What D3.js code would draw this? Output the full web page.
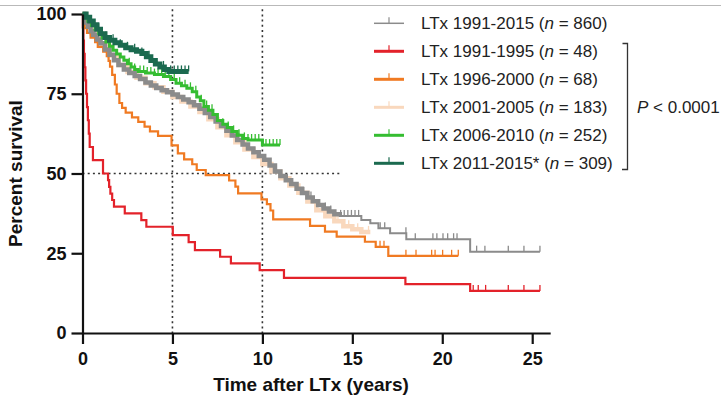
<!DOCTYPE html>
<html>
<head>
<meta charset="utf-8">
<script src="https://cdn.jsdelivr.net/npm/d3@7"></script>
<style>
  html, body { margin: 0; padding: 0; background: #fff; }
  svg { display: block; font-family: "Liberation Sans", Arial, Helvetica, sans-serif; }
</style>
</head>
<body>
<svg id="chart" width="721" height="398"></svg>
<script>
// Kaplan–Meier step points: [years after LTx, percent surviving]
const era1991_2015 = [
  [0,100],[0.1,98.5],[0.2,97.3],[0.3,96],[0.45,94.6],[0.6,93.5],[0.8,92],[1.0,90.8],
  [1.25,88.9],[1.5,87.2],[1.75,85.5],[2.0,84],[2.3,82.6],[2.6,81.5],[2.9,80.6],[3.2,79.6],
  [3.5,78.5],[3.8,77.6],[4.1,76.8],[4.4,76.1],[4.7,75.5],[5.0,74.8],[5.3,74],[5.6,73.2],
  [5.9,72.3],[6.2,71.4],[6.5,70.3],[6.8,69],[7.1,67.7],[7.4,66.3],[7.7,64.9],[8.0,63.4],
  [8.3,61.9],[8.6,60.5],[8.9,59.1],[9.2,57.8],[9.5,56.7],[9.8,55.5],[10.1,54.3],[10.4,52.5],
  [10.7,50.6],[11.0,49.2],[11.3,47.9],[11.6,46.7],[11.9,45.2],[12.2,43.9],[12.5,42.5],
  [12.8,41.3],[13.1,40.1],[13.4,39],[13.7,38.1],[14.0,37.2],[14.3,36.7],[15.5,35.4],
  [16.0,34.4],[16.45,32.8],[17.1,31.3],[18.0,29.4],[21.55,25.5],[25.43,25.5]
];
const era1991_1995 = [
  [0,100],[0.02,95.8],[0.05,91.7],[0.08,87.5],[0.12,83.3],[0.16,79.2],[0.2,75],[0.25,70.8],
  [0.3,66.7],[0.35,62.5],[0.4,58.3],[0.58,54.2],[1.14,50],[1.42,47.9],[1.48,45.8],[1.55,43.7],
  [1.65,41.7],[1.75,39.6],[2.35,37.5],[3.27,35.4],[3.55,33.3],[5.02,30.7],[5.9,28.5],
  [6.25,26],[7.65,23.9],[8.25,21.8],[9.85,19.7],[11.2,17.3],[17.95,15.3],[21.55,13.2],[25.43,13.2]
];
const era1996_2000 = [
  [0,100],[0.05,97.1],[0.12,95.6],[0.25,94.1],[0.45,92.6],[0.7,91.2],[0.85,89.7],[1.15,88.2],
  [1.35,86.8],[1.45,85.3],[1.53,83.5],[1.65,80.9],[1.8,77.9],[1.9,75],[2.05,72.1],[2.2,70.6],
  [2.4,69.1],[2.75,67.6],[3.1,66.2],[3.45,64.7],[3.75,63.2],[4.2,61.8],[4.95,58.8],[5.3,56.3],
  [5.65,54.4],[6.1,52.9],[6.35,51.1],[6.85,49.5],[8.15,47.8],[8.5,45.9],[8.65,43.8],
  [9.95,41.9],[10.25,40.4],[10.45,38.4],[10.6,35.6],[12.65,33.6],[13.48,31.8],[14.13,30.2],
  [15.7,28.6],[16.3,27],[17.0,24.2],[20.89,24.2]
];
const era2001_2005 = [
  [0,100],[0.2,97],[0.5,94],[1.0,90],[1.5,87],[2.0,84],[2.5,81.8],[3.0,80],[3.5,78.3],
  [4.0,77],[4.5,75.6],[5.0,74],[5.5,72.6],[6.0,71],[6.5,69.3],[7.0,67],[7.5,64.5],[8.0,62],
  [8.5,59.8],[9.0,57.5],[9.5,55.2],[10.0,53],[10.5,50.6],[11.0,48.5],[11.5,46.2],[12.0,44],
  [12.5,41.2],[13.0,38.5],[13.5,36.6],[14.0,35],[14.5,33.5],[15.0,32.5],[15.5,31.7],[16.0,31.7]
];
const era2006_2010 = [
  [0,100],[0.15,98.8],[0.3,97.7],[0.5,96.4],[0.7,95.2],[0.9,94],[1.1,92.5],[1.3,91.2],
  [1.5,89.9],[1.7,88.6],[1.9,87.5],[2.1,86.5],[2.3,85.5],[2.5,84.4],[2.7,83.4],[2.9,82.6],
  [3.1,82],[3.5,81.5],[4.0,81],[4.5,80.4],[4.9,79.5],[5.2,78.3],[5.5,77.5],[5.8,76.7],
  [6.1,75.6],[6.35,74],[6.55,72.8],[6.75,71],[7.0,69.8],[7.25,68.5],[7.5,66.6],[7.8,65.4],
  [8.05,64.4],[8.3,63.2],[8.6,62],[8.9,61],[9.2,60.5],[10.0,58.9],[10.98,58.9]
];
const era2011_2015 = [
  [0,100],[0.2,99],[0.4,97.8],[0.6,96.6],[0.8,95.2],[1.0,93.8],[1.25,92.6],[1.5,91.8],
  [1.8,91],[2.1,90.2],[2.4,89.4],[2.7,88.8],[3.0,88.3],[3.3,87.6],[3.55,86.6],[3.8,85.4],
  [4.05,84.3],[4.3,83.4],[4.55,82.6],[4.8,82],[5.9,82]
];

// Censoring times (years) per era
const censor1991_2015 = [11.9,12.3,12.7,13.1,13.5,13.8,14.35,14.55,14.75,14.95,15.15,15.35,
  16.55,16.8,17.98,18.5,19.48,19.7,20.04,20.3,20.63,20.82,21.91,22.37,23.67,24.54,25.43];
const censor1991_1995 = [21.72,22.0,22.41,23.67,24.54,25.43];
const censor1996_2000 = [16.54,16.76,17.98,18.54,19.41,19.6,20.02,20.52,20.89];
const censor2001_2005 = [12.2,13.3,14.2,14.8,15.3,15.9];
const censor2006_2010 = [2.6,2.9,3.2,3.4,3.6,3.8,4.0,4.2,4.4,4.6,4.8,5.1,5.4,5.7,6.0,6.3,
  6.6,6.9,7.2,7.5,7.8,8.1,8.4,8.7,9.0,9.2,9.4,9.6,9.8,10.05,10.2,10.4,10.6,10.8,10.98];
const censor2011_2015 = [0.9,1.3,1.7,2.1,2.5,2.9,3.3,3.7,4.1,4.5,4.9,5.1,5.3,5.5,5.7,5.9];

const eraNames = ["LTx 1991-2015", "LTx 1991-1995", "LTx 1996-2000",
                  "LTx 2001-2005", "LTx 2006-2010", "LTx 2011-2015*"];
const eraCounts = [860, 48, 68, 183, 252, 309];
const xTicks = [0, 5, 10, 15, 20, 25];
const yTicks = [0, 25, 50, 75, 100];
const guideYears = [5, 10];
const guideSurvival = 50;
const guideSurvivalEnd = 14.4;
const pValueText = "< 0.0001";

// Visual styling for each era (same order as eraNames)
const eraStyles = [
  { color: "#8b8b8b", width: 2,   thickUntil: 14.3, thickWidth: 4.5, legendWidth: 1.5 },
  { color: "#e3222a", width: 2.2, thickUntil: 0,    thickWidth: 0,   legendWidth: 3 },
  { color: "#f07a22", width: 2.2, thickUntil: 0,    thickWidth: 0,   legendWidth: 3 },
  { color: "#f9d8bd", width: 4.5, thickUntil: 0,    thickWidth: 0,   legendWidth: 3 },
  { color: "#35bd31", width: 3,   thickUntil: 0,    thickWidth: 0,   legendWidth: 3 },
  { color: "#1b6a4f", width: 5,   thickUntil: 0,    thickWidth: 0,   legendWidth: 3 }
];
const stepSets = [era1991_2015, era1991_1995, era1996_2000, era2001_2005, era2006_2010, era2011_2015];
const censorSets = [censor1991_2015, censor1991_1995, censor1996_2000, censor2001_2005, censor2006_2010, censor2011_2015];
const drawOrder = [3, 1, 2, 0, 4, 5];

const svg = d3.select("#chart");
svg.append("rect").attr("width", 721).attr("height", 398).attr("fill", "#fff");

// thin rule along the top edge of the page
svg.append("line").attr("x1", 0).attr("x2", 721).attr("y1", 5.5).attr("y2", 5.5)
  .attr("stroke", "#b9b9b9").attr("stroke-width", 1);

const x = d3.scaleLinear().domain([0, 26]).range([82.5, 550.2]);
const y = d3.scaleLinear().domain([0, 100]).range([333, 14]);

// dotted guides at 5 and 10 years and at median survival
const guides = svg.append("g").attr("stroke", "#333").attr("stroke-width", 1.6)
  .attr("stroke-dasharray", "2,3.2");
guideYears.forEach(t => {
  guides.append("line").attr("x1", x(t)).attr("x2", x(t))
    .attr("y1", y(101.5)).attr("y2", y(0));
});
guides.append("line").attr("x1", x(0)).attr("x2", x(guideSurvivalEnd))
  .attr("y1", y(guideSurvival)).attr("y2", y(guideSurvival));

// survival curves
const line = d3.line().x(d => x(d[0])).y(d => y(d[1])).curve(d3.curveStepAfter);
const bis = d3.bisector(d => d[0]).right;
const curves = svg.append("g").attr("fill", "none");
drawOrder.forEach(i => {
  const st = eraStyles[i], data = stepSets[i];
  const g = curves.append("g");
  g.append("path").attr("d", line(data)).attr("stroke", st.color)
    .attr("stroke-width", st.width).attr("stroke-linejoin", "miter");
  if (st.thickUntil > 0) {
    g.append("path").attr("d", line(data.filter(d => d[0] <= st.thickUntil)))
      .attr("stroke", st.color).attr("stroke-width", st.thickWidth);
  }
  g.selectAll("line.censor").data(censorSets[i]).join("line")
    .attr("class", "censor")
    .attr("x1", t => x(t)).attr("x2", t => x(t))
    .attr("y1", t => y(data[Math.max(0, bis(data, t) - 1)][1]))
    .attr("y2", t => y(data[Math.max(0, bis(data, t) - 1)][1]) - 6)
    .attr("stroke", st.color).attr("stroke-width", 1.3);
});

// axes
const xAxis = svg.append("g").attr("transform", `translate(0,${y(0)})`)
  .call(d3.axisBottom(x).tickValues(xTicks).tickSize(11).tickSizeOuter(0).tickPadding(8));
const yAxis = svg.append("g").attr("transform", `translate(${x(0)},0)`)
  .call(d3.axisLeft(y).tickValues(yTicks).tickSize(11).tickSizeOuter(0).tickPadding(5));
[xAxis, yAxis].forEach(a => {
  a.select(".domain").attr("stroke", "#111").attr("stroke-width", 2.2);
  a.selectAll(".tick line").attr("stroke", "#111").attr("stroke-width", 2.2);
  a.selectAll(".tick text").attr("fill", "#111").attr("font-size", 18)
    .attr("font-weight", "bold").attr("font-family", "Liberation Sans, Arial, sans-serif");
});

// axis titles
svg.append("text").attr("x", 311).attr("y", 391).attr("text-anchor", "middle")
  .attr("font-size", 19).attr("font-weight", "bold").attr("fill", "#111")
  .text("Time after LTx (years)");
svg.append("text").attr("transform", `translate(22,${y(50)}) rotate(-90)`)
  .attr("text-anchor", "middle").attr("font-size", 19).attr("font-weight", "bold")
  .attr("fill", "#111").text("Percent survival");

// legend
const legend = svg.append("g");
eraNames.forEach((name, i) => {
  const cy = 23.3 + i * 28;
  const st = eraStyles[i];
  legend.append("line").attr("x1", 374).attr("x2", 404).attr("y1", cy).attr("y2", cy)
    .attr("stroke", st.color).attr("stroke-width", st.legendWidth);
  legend.append("line").attr("x1", 389).attr("x2", 389).attr("y1", cy).attr("y2", cy - 6)
    .attr("stroke", st.color).attr("stroke-width", 1.2);
  const t = legend.append("text").attr("x", 421).attr("y", cy + 6)
    .attr("font-size", 17).attr("fill", "#222");
  t.append("tspan").text(name + " (");
  t.append("tspan").attr("font-style", "italic").text("n");
  t.append("tspan").text(" = " + eraCounts[i] + ")");
});
legend.append("path").attr("d", "M622.5,43.5H627.5V169.5H622")
  .attr("fill", "none").attr("stroke", "#333").attr("stroke-width", 1.3);
const p = legend.append("text").attr("x", 637).attr("y", 113).attr("font-size", 17).attr("fill", "#222");
p.append("tspan").attr("font-style", "italic").text("P");
p.append("tspan").text(" " + pValueText);
</script>
</body>
</html>
